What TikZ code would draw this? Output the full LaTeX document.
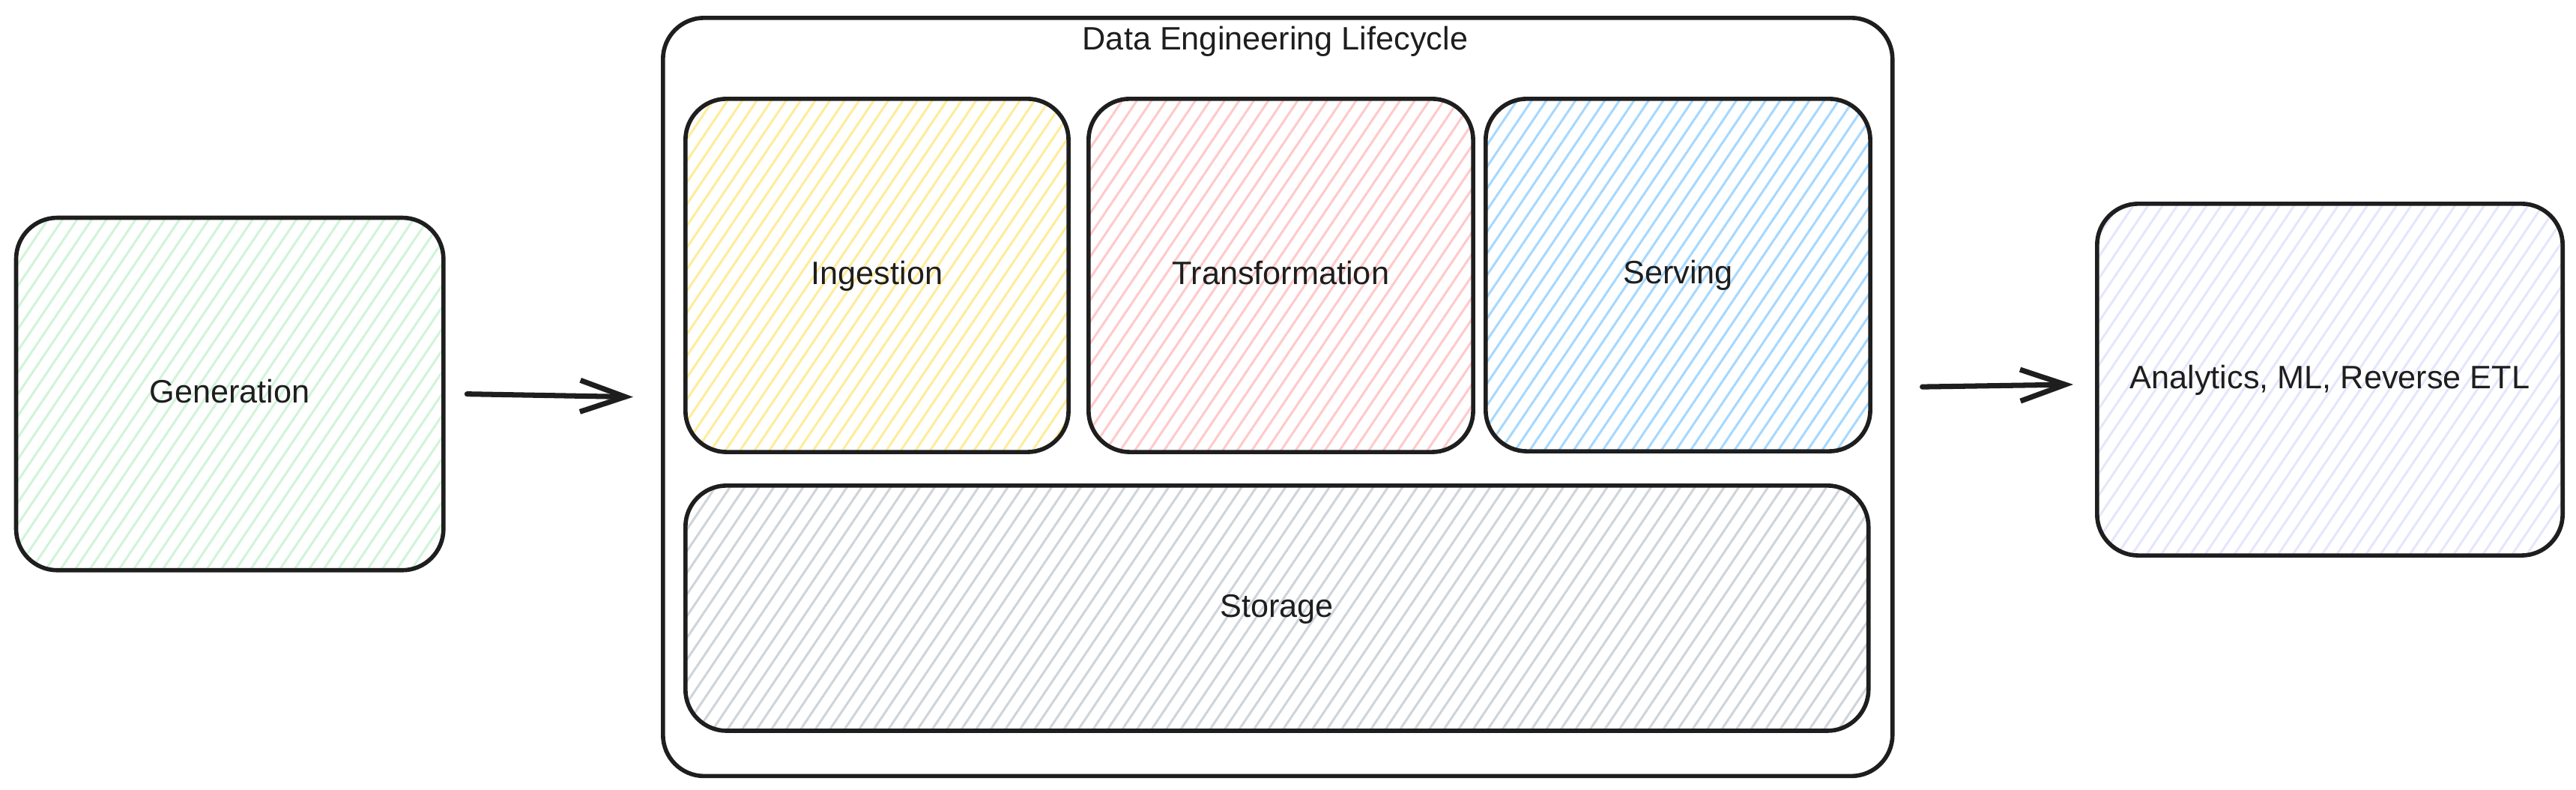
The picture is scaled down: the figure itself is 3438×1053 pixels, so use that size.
\documentclass[tikz,border=0pt]{standalone}
\usepackage{fontspec}
\setmainfont{Liberation Sans}
\usetikzlibrary{arrows.meta,patterns.meta}
\definecolor{cgreen}{HTML}{D0F4D8}
\definecolor{cyellow}{HTML}{FFEC99}
\definecolor{cpink}{HTML}{FFC9C9}
\definecolor{cblue}{HTML}{A5D8FF}
\definecolor{cgray}{HTML}{CED4DA}
\definecolor{clav}{HTML}{E4E6FC}
\definecolor{ink}{HTML}{1E1E1E}
\begin{document}
\begin{tikzpicture}[x=0.01cm,y=-0.01cm,
  box/.style={draw=ink, line width=1.6pt, rounded corners=0.55cm, anchor=north west,
    inner sep=0pt, text height=9pt, text depth=2.2pt,
    font=\fontsize{12.3}{14}\selectfont, text=ink},
  hatch/.style={pattern={Lines[angle=56,distance=4.6pt,line width=0.85pt]}, pattern color=#1},
  arr/.style={draw=ink, line width=2pt, line cap=round,
    -{Straight Barb[length=0.6cm,width=0.42cm,line width=2pt]}},
  lbl/.style={font=\fontsize{12.3}{14}\selectfont, text=ink, inner sep=0pt}]
\fill[white] (0,0) rectangle (3438,1053);
\useasboundingbox (0,0) rectangle (3438,1053);
% boxes
\node[box, hatch=cgreen, minimum width=5.70cm, minimum height=4.70cm] (gen) at (20,289) {Generation};
\node[box, minimum width=16.40cm, minimum height=10.11cm] (outer) at (882,21) {};
\node[lbl, anchor=base] (title) at (1702,66) {Data Engineering Lifecycle};
\node[box, hatch=cyellow, minimum width=5.11cm, minimum height=4.71cm] (ing) at (912,129) {Ingestion};
\node[box, hatch=cpink, minimum width=5.13cm, minimum height=4.71cm] (trans) at (1450,129) {Transformation};
\node[box, hatch=cblue, minimum width=5.13cm, minimum height=4.70cm] (serv) at (1980,129) {Serving};
\node[box, hatch=cgray, minimum width=15.78cm, minimum height=3.27cm] (stor) at (912,645) {Storage};
\node[box, hatch=clav, minimum width=6.21cm, minimum height=4.69cm] (ana) at (2796,269) {Analytics, ML, Reverse ETL};
% arrows
\draw[arr] ([xshift=0.30cm]gen.east) -- ([xshift=-0.37cm]outer.west);
\draw[arr] ([xshift=0.37cm,yshift=0.135cm]outer.east) -- ([xshift=-0.29cm,yshift=-0.065cm]ana.west);
\end{tikzpicture}
\end{document}
